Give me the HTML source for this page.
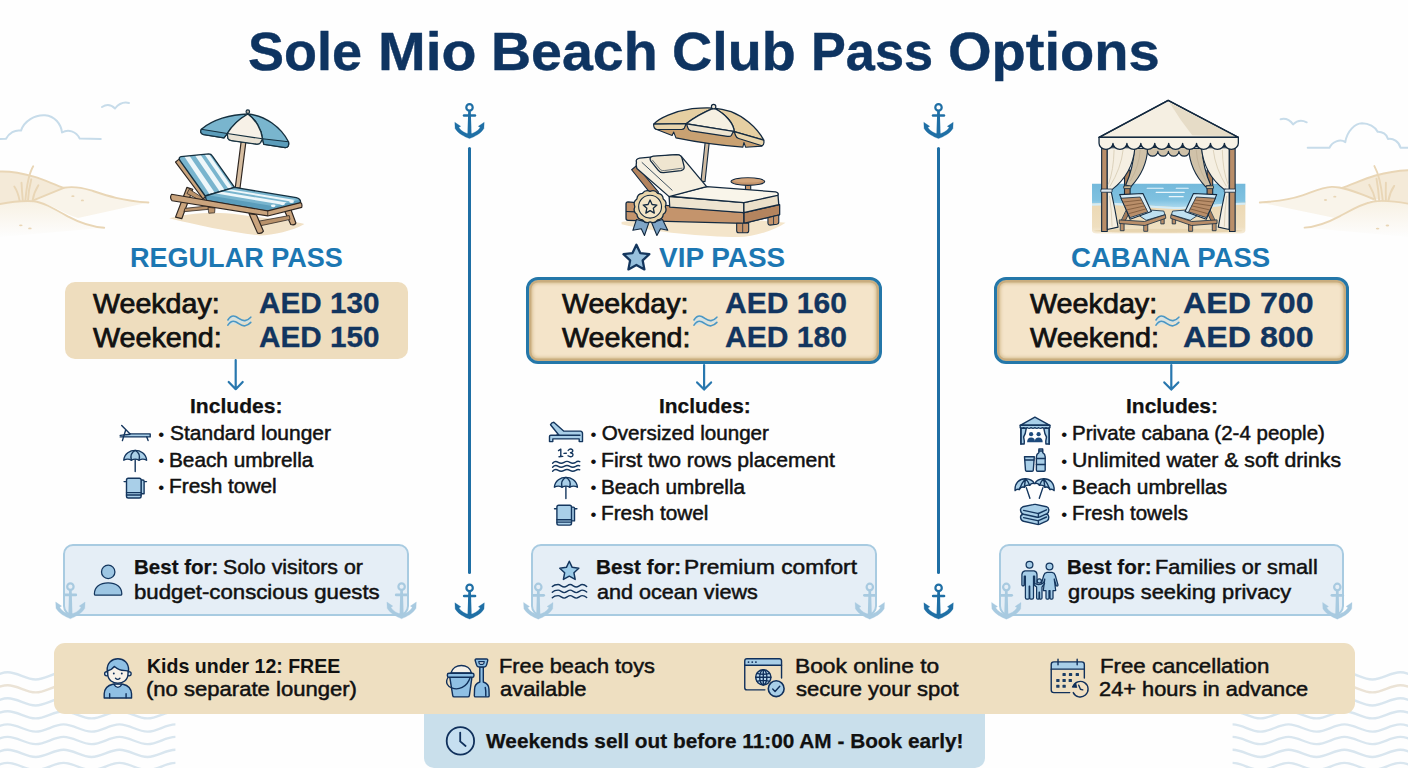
<!DOCTYPE html>
<html><head><meta charset="utf-8"><title>Sole Mio Beach Club Pass Options</title><style>
html,body{margin:0;padding:0;}
body{width:1408px;height:768px;overflow:hidden;background:#fefefe;position:relative;font-family:"Liberation Sans",sans-serif;}
.t{position:absolute;white-space:nowrap;transform-origin:0 0;}
.abs{position:absolute;}
.pbox{position:absolute;box-sizing:border-box;}
.best{position:absolute;box-sizing:border-box;background:#e5eef6;border:2.4px solid #a8cbe1;border-radius:10px;}
.vip{position:absolute;box-sizing:border-box;border:3.5px solid #2477a9;border-radius:12px;background:#f4e4c9;box-shadow:inset 0 0 0 2.4px #c9ad7f, inset 0 0 3px 4px #dcc59c;}
.div{position:absolute;width:3px;background:#1f6fa5;border-radius:1.5px;}
</style></head>
<body>
<svg class="abs" style="left:0;top:0" width="1408" height="768" viewBox="0 0 1408 768">
<defs>
<linearGradient id="fadeL" x1="0" y1="0" x2="0" y2="1"><stop offset="0" stop-color="#f6eedd"/><stop offset="1" stop-color="#fdfdfd"/></linearGradient>
<linearGradient id="fadeB" x1="0" y1="0" x2="0" y2="1"><stop offset="0" stop-color="#f3e8d3"/><stop offset="1" stop-color="#f6eddc"/></linearGradient>
<clipPath id="cwl"><rect x="0" y="660" width="175.4" height="108"/></clipPath>
<clipPath id="cwr"><rect x="1232.6" y="660" width="175.4" height="108"/></clipPath>
</defs>
<g fill="none" stroke-width="2.4" stroke-linecap="round">
<path clip-path="url(#cwl)" stroke="#d9e6ef" d="M-48.2,672.3 C-38.0,672.3 -30.4,679.5 -20.2,679.5 C-10.1,679.5 -2.5,672.3 7.7,672.3 C17.9,672.3 25.5,679.5 35.7,679.5 C45.8,679.5 53.4,672.3 63.6,672.3 C73.8,672.3 81.4,679.5 91.6,679.5 C101.7,679.5 109.3,672.3 119.5,672.3 C129.7,672.3 137.3,679.5 147.5,679.5 C157.6,679.5 165.2,672.3 175.4,672.3 C185.6,672.3 193.2,679.5 203.3,679.5"/>
<path clip-path="url(#cwr)" stroke="#d9e6ef" d="M1176.7,672.3 C1186.9,672.3 1194.5,679.5 1204.6,679.5 C1214.8,679.5 1222.4,672.3 1232.6,672.3 C1242.8,672.3 1250.4,679.5 1260.5,679.5 C1270.7,679.5 1278.3,672.3 1288.5,672.3 C1298.7,672.3 1306.3,679.5 1316.5,679.5 C1326.6,679.5 1334.2,672.3 1344.4,672.3 C1354.6,672.3 1362.2,679.5 1372.4,679.5 C1382.5,679.5 1390.1,672.3 1400.3,672.3 C1410.5,672.3 1418.1,679.5 1428.3,679.5"/>
<path clip-path="url(#cwl)" stroke="#ebe3d6" d="M-48.2,685.2 C-38.0,685.2 -30.4,692.4 -20.2,692.4 C-10.1,692.4 -2.5,685.2 7.7,685.2 C17.9,685.2 25.5,692.4 35.7,692.4 C45.8,692.4 53.4,685.2 63.6,685.2 C73.8,685.2 81.4,692.4 91.6,692.4 C101.7,692.4 109.3,685.2 119.5,685.2 C129.7,685.2 137.3,692.4 147.5,692.4 C157.6,692.4 165.2,685.2 175.4,685.2 C185.6,685.2 193.2,692.4 203.3,692.4"/>
<path clip-path="url(#cwr)" stroke="#ebe3d6" d="M1176.7,685.2 C1186.9,685.2 1194.5,692.4 1204.6,692.4 C1214.8,692.4 1222.4,685.2 1232.6,685.2 C1242.8,685.2 1250.4,692.4 1260.5,692.4 C1270.7,692.4 1278.3,685.2 1288.5,685.2 C1298.7,685.2 1306.3,692.4 1316.5,692.4 C1326.6,692.4 1334.2,685.2 1344.4,685.2 C1354.6,685.2 1362.2,692.4 1372.4,692.4 C1382.5,692.4 1390.1,685.2 1400.3,685.2 C1410.5,685.2 1418.1,692.4 1428.3,692.4"/>
<path clip-path="url(#cwl)" stroke="#d9e6ef" d="M-48.2,698.3 C-38.0,698.3 -30.4,705.5 -20.2,705.5 C-10.1,705.5 -2.5,698.3 7.7,698.3 C17.9,698.3 25.5,705.5 35.7,705.5 C45.8,705.5 53.4,698.3 63.6,698.3 C73.8,698.3 81.4,705.5 91.6,705.5 C101.7,705.5 109.3,698.3 119.5,698.3 C129.7,698.3 137.3,705.5 147.5,705.5 C157.6,705.5 165.2,698.3 175.4,698.3 C185.6,698.3 193.2,705.5 203.3,705.5"/>
<path clip-path="url(#cwr)" stroke="#d9e6ef" d="M1176.7,698.3 C1186.9,698.3 1194.5,705.5 1204.6,705.5 C1214.8,705.5 1222.4,698.3 1232.6,698.3 C1242.8,698.3 1250.4,705.5 1260.5,705.5 C1270.7,705.5 1278.3,698.3 1288.5,698.3 C1298.7,698.3 1306.3,705.5 1316.5,705.5 C1326.6,705.5 1334.2,698.3 1344.4,698.3 C1354.6,698.3 1362.2,705.5 1372.4,705.5 C1382.5,705.5 1390.1,698.3 1400.3,698.3 C1410.5,698.3 1418.1,705.5 1428.3,705.5"/>
<path clip-path="url(#cwl)" stroke="#d9e6ef" d="M-48.2,711.2 C-38.0,711.2 -30.4,718.4 -20.2,718.4 C-10.1,718.4 -2.5,711.2 7.7,711.2 C17.9,711.2 25.5,718.4 35.7,718.4 C45.8,718.4 53.4,711.2 63.6,711.2 C73.8,711.2 81.4,718.4 91.6,718.4 C101.7,718.4 109.3,711.2 119.5,711.2 C129.7,711.2 137.3,718.4 147.5,718.4 C157.6,718.4 165.2,711.2 175.4,711.2 C185.6,711.2 193.2,718.4 203.3,718.4"/>
<path clip-path="url(#cwr)" stroke="#d9e6ef" d="M1176.7,711.2 C1186.9,711.2 1194.5,718.4 1204.6,718.4 C1214.8,718.4 1222.4,711.2 1232.6,711.2 C1242.8,711.2 1250.4,718.4 1260.5,718.4 C1270.7,718.4 1278.3,711.2 1288.5,711.2 C1298.7,711.2 1306.3,718.4 1316.5,718.4 C1326.6,718.4 1334.2,711.2 1344.4,711.2 C1354.6,711.2 1362.2,718.4 1372.4,718.4 C1382.5,718.4 1390.1,711.2 1400.3,711.2 C1410.5,711.2 1418.1,718.4 1428.3,718.4"/>
<path clip-path="url(#cwl)" stroke="#d9e6ef" d="M-48.2,724.4 C-38.0,724.4 -30.4,731.6 -20.2,731.6 C-10.1,731.6 -2.5,724.4 7.7,724.4 C17.9,724.4 25.5,731.6 35.7,731.6 C45.8,731.6 53.4,724.4 63.6,724.4 C73.8,724.4 81.4,731.6 91.6,731.6 C101.7,731.6 109.3,724.4 119.5,724.4 C129.7,724.4 137.3,731.6 147.5,731.6 C157.6,731.6 165.2,724.4 175.4,724.4 C185.6,724.4 193.2,731.6 203.3,731.6"/>
<path clip-path="url(#cwr)" stroke="#d9e6ef" d="M1176.7,724.4 C1186.9,724.4 1194.5,731.6 1204.6,731.6 C1214.8,731.6 1222.4,724.4 1232.6,724.4 C1242.8,724.4 1250.4,731.6 1260.5,731.6 C1270.7,731.6 1278.3,724.4 1288.5,724.4 C1298.7,724.4 1306.3,731.6 1316.5,731.6 C1326.6,731.6 1334.2,724.4 1344.4,724.4 C1354.6,724.4 1362.2,731.6 1372.4,731.6 C1382.5,731.6 1390.1,724.4 1400.3,724.4 C1410.5,724.4 1418.1,731.6 1428.3,731.6"/>
<path clip-path="url(#cwl)" stroke="#d9e6ef" d="M-48.2,736.9 C-38.0,736.9 -30.4,744.1 -20.2,744.1 C-10.1,744.1 -2.5,736.9 7.7,736.9 C17.9,736.9 25.5,744.1 35.7,744.1 C45.8,744.1 53.4,736.9 63.6,736.9 C73.8,736.9 81.4,744.1 91.6,744.1 C101.7,744.1 109.3,736.9 119.5,736.9 C129.7,736.9 137.3,744.1 147.5,744.1 C157.6,744.1 165.2,736.9 175.4,736.9 C185.6,736.9 193.2,744.1 203.3,744.1"/>
<path clip-path="url(#cwr)" stroke="#d9e6ef" d="M1176.7,736.9 C1186.9,736.9 1194.5,744.1 1204.6,744.1 C1214.8,744.1 1222.4,736.9 1232.6,736.9 C1242.8,736.9 1250.4,744.1 1260.5,744.1 C1270.7,744.1 1278.3,736.9 1288.5,736.9 C1298.7,736.9 1306.3,744.1 1316.5,744.1 C1326.6,744.1 1334.2,736.9 1344.4,736.9 C1354.6,736.9 1362.2,744.1 1372.4,744.1 C1382.5,744.1 1390.1,736.9 1400.3,736.9 C1410.5,736.9 1418.1,744.1 1428.3,744.1"/>
<path clip-path="url(#cwl)" stroke="#d9e6ef" d="M-48.2,749.8 C-38.0,749.8 -30.4,757.0 -20.2,757.0 C-10.1,757.0 -2.5,749.8 7.7,749.8 C17.9,749.8 25.5,757.0 35.7,757.0 C45.8,757.0 53.4,749.8 63.6,749.8 C73.8,749.8 81.4,757.0 91.6,757.0 C101.7,757.0 109.3,749.8 119.5,749.8 C129.7,749.8 137.3,757.0 147.5,757.0 C157.6,757.0 165.2,749.8 175.4,749.8 C185.6,749.8 193.2,757.0 203.3,757.0"/>
<path clip-path="url(#cwr)" stroke="#d9e6ef" d="M1176.7,749.8 C1186.9,749.8 1194.5,757.0 1204.6,757.0 C1214.8,757.0 1222.4,749.8 1232.6,749.8 C1242.8,749.8 1250.4,757.0 1260.5,757.0 C1270.7,757.0 1278.3,749.8 1288.5,749.8 C1298.7,749.8 1306.3,757.0 1316.5,757.0 C1326.6,757.0 1334.2,749.8 1344.4,749.8 C1354.6,749.8 1362.2,757.0 1372.4,757.0 C1382.5,757.0 1390.1,749.8 1400.3,749.8 C1410.5,749.8 1418.1,757.0 1428.3,757.0"/>
<path clip-path="url(#cwl)" stroke="#d9e6ef" d="M-48.2,762.9 C-38.0,762.9 -30.4,770.1 -20.2,770.1 C-10.1,770.1 -2.5,762.9 7.7,762.9 C17.9,762.9 25.5,770.1 35.7,770.1 C45.8,770.1 53.4,762.9 63.6,762.9 C73.8,762.9 81.4,770.1 91.6,770.1 C101.7,770.1 109.3,762.9 119.5,762.9 C129.7,762.9 137.3,770.1 147.5,770.1 C157.6,770.1 165.2,762.9 175.4,762.9 C185.6,762.9 193.2,770.1 203.3,770.1"/>
<path clip-path="url(#cwr)" stroke="#d9e6ef" d="M1176.7,762.9 C1186.9,762.9 1194.5,770.1 1204.6,770.1 C1214.8,770.1 1222.4,762.9 1232.6,762.9 C1242.8,762.9 1250.4,770.1 1260.5,770.1 C1270.7,770.1 1278.3,762.9 1288.5,762.9 C1298.7,762.9 1306.3,770.1 1316.5,770.1 C1326.6,770.1 1334.2,762.9 1344.4,762.9 C1354.6,762.9 1362.2,770.1 1372.4,770.1 C1382.5,770.1 1390.1,762.9 1400.3,762.9 C1410.5,762.9 1418.1,770.1 1428.3,770.1"/>
</g>
<g stroke-linecap="round" stroke-linejoin="round">
<path d="M0,171.5 C8,171.3 20,172.5 33.9,176.7 C45,180 55,185 63.8,187.8 L33.9,200.1 C22,200.5 10,202 0,204 Z" fill="#f4ead8"/>
<path d="M33.9,200.1 L63.8,187.8 C70,186.6 80,187 91.1,190.4 C105,195 120,200.5 148.4,202.5 L78,218 C60,212 50,203 33.9,201.2 Z" fill="#f9f4ea"/>
<path d="M0,204 C12,201.6 24,200.6 33.9,201.2 C42,202 52,207.5 67.7,216.4 C82,224 92,227 104.2,227.7 L0,237 Z" fill="url(#fadeL)" opacity="0.8"/>
<g fill="none" stroke="#e9d6b6" stroke-width="1.9">
<path d="M0,171.5 C8,171.3 20,172.5 33.9,176.7 C45,180 55,185 63.8,187.8"/>
<path d="M33.9,200.1 L63.8,187.8 C70,186.6 80,187 91.1,190.4 C105,195 120,200.5 148.4,202.5"/>
<path d="M0,204 C12,201.6 24,200.6 33.9,201.2 C42,202 52,207.5 67.7,216.4 C82,224 92,227 104.2,227.7"/>
<path d="M14.3,186.5 Q18,192 19.5,200.3"/><path d="M21.5,182.6 Q22,192 22.8,200.3"/><path d="M33.2,166.3 Q27.5,176 25.4,200.3"/><path d="M31.3,179.3 Q28.5,190 28,200.3"/><path d="M38.4,185.2 Q34,192 32.6,200.3"/>
</g>
<g fill="#e9d6b6"><ellipse cx="72.9" cy="196.2" rx="1.6" ry="0.9"/><ellipse cx="82.4" cy="200.4" rx="1.6" ry="0.9"/><ellipse cx="20.8" cy="225.3" rx="1.8" ry="0.9"/><ellipse cx="29.9" cy="228.4" rx="1.8" ry="0.9"/></g>
<path d="M1342.1,188 C1352,184.5 1365,178.5 1375.5,175.5 C1388,172 1398,170.6 1408,170.2 L1408,203.6 C1398,201.8 1385,200.5 1373.4,199 Z" fill="#f4ead8"/>
<path d="M1259.8,202.5 C1275,201.5 1290,199.5 1302.5,195.3 C1315,191 1322,187.5 1331.7,186.9 C1340,186.6 1350,189.5 1373.4,199 L1335,218 Z" fill="#f9f4ea"/>
<path d="M1304.6,227.6 C1315,227 1328,222.5 1340,216.1 C1352,209.5 1362,203.5 1373.4,201.5 C1385,199.8 1398,201.8 1408,203.6 L1408,237 Z" fill="url(#fadeL)" opacity="0.8"/>
<g fill="none" stroke="#e9d6b6" stroke-width="1.9">
<path d="M1342.1,188 C1352,184.5 1365,178.5 1375.5,175.5 C1388,172 1398,170.6 1408,170.2"/>
<path d="M1259.8,202.5 C1275,201.5 1290,199.5 1302.5,195.3 C1315,191 1322,187.5 1331.7,186.9 C1340,186.6 1350,189.5 1373.4,199"/>
<path d="M1304.6,227.6 C1315,227 1328,222.5 1340,216.1 C1352,209.5 1362,203.5 1373.4,201.5 C1385,199.8 1398,201.8 1408,203.6"/>
<path d="M1374.4,166.1 Q1380.5,177 1382.8,200.5"/><path d="M1369.2,184.8 Q1373.5,192 1375.5,200.5"/><path d="M1376.5,178.6 Q1378.5,190 1379.2,200.5"/><path d="M1385.9,182.7 Q1385.6,192 1385.9,200.5"/><path d="M1394.2,185.9 Q1390,192 1388.4,200.5"/>
</g>
<g fill="#e9d6b6"><ellipse cx="1325.5" cy="200" rx="1.6" ry="0.9"/><ellipse cx="1334.8" cy="196.7" rx="1.6" ry="0.9"/><ellipse cx="1377.6" cy="228.6" rx="1.8" ry="0.9"/><ellipse cx="1387.4" cy="225.5" rx="1.8" ry="0.9"/></g>
</g>
<g fill="none" stroke="#c7dcea" stroke-width="2" stroke-linecap="round" stroke-linejoin="round">
<path d="M0,139 L6,138.8 C9,133 15,129.5 21,130.6 C24,121 35,114.5 45,115.2 C55,116 61,124 62,132.5 C68,129 76,131 79.7,138.6 L100.8,139"/>
<path d="M102,107 Q109,102.5 115,108.5 Q121,101 129,103"/>
<path d="M1307.7,147.7 L1329.6,147.7 C1332,142 1340,138.5 1345.3,142.1 C1347,131 1355,123.5 1362,123.3 C1369,123.3 1375,127 1377.6,131.7 C1382,131.5 1387,134 1388,139 C1393,138 1399,141.5 1400.5,147.7 L1408,147.7"/>
<path d="M1280.6,119.2 Q1288,117.5 1293.1,124.4 Q1299,118.5 1306.7,122.3"/>
</g>
</svg>
<div class="abs" style="left:423.5px;top:712px;width:561px;height:56px;background:#c9dfeb;border-radius:0 0 10px 10px;"></div>
<div class="abs" style="left:53.5px;top:642.5px;width:1301px;height:71.5px;background:#eedfc1;border-radius:11px;"></div>
<div class="pbox" style="left:65px;top:281.5px;width:342.5px;height:77.7px;background:#eeddbe;border-radius:10px;"></div>
<div class="vip" style="left:526.3px;top:277px;width:355.4px;height:87.2px;"></div>
<div class="vip" style="left:994.3px;top:277px;width:354.6px;height:87.2px;"></div>
<div class="best" style="left:63.3px;top:543.6px;width:346px;height:72.2px;"></div>
<div class="best" style="left:531.3px;top:543.6px;width:346px;height:72.2px;"></div>
<div class="best" style="left:999px;top:543.6px;width:345.4px;height:72.2px;"></div>
<div class="div" style="left:468px;top:147.3px;height:426.3px;"></div>
<div class="div" style="left:937px;top:147.3px;height:426.3px;"></div>
<svg class="abs" style="left:0;top:0" width="1408" height="768" viewBox="0 0 1408 768">
<defs>
<g id="anc"><circle cx="16" cy="4.3" r="3.2" fill="none" stroke="currentColor" stroke-width="2.2"/>
<path d="M14.7,7.2 L17.3,7.2 L18,31.5 L14,31.5 Z" fill="currentColor"/>
<path d="M10.6,12.4 L21.4,12.4" stroke="currentColor" stroke-width="2.7" stroke-linecap="round" fill="none"/>
<path d="M1.3,19.2 L7.2,23.2 L5.3,24.5 C7.8,28 11.5,30.3 16,30.9 C20.5,30.3 24.2,28 26.7,24.5 L24.8,23.2 L30.7,19.2 L30.4,25.4 C27.5,30.5 21,33.5 16,35.5 C11,33.5 4.500,30.5 1.6,25.4 Z" fill="currentColor" stroke="currentColor" stroke-width="0.3" stroke-linejoin="round"/></g>
</defs>
<use href="#anc" x="453.5" y="103.1" style="color:#1f6fa5"/>
<use href="#anc" x="922.5" y="103.1" style="color:#1f6fa5"/>
<use href="#anc" x="453.6" y="583.6" style="color:#1f6fa5"/>
<use href="#anc" x="922.6" y="583.6" style="color:#1f6fa5"/>
<g transform="translate(54.4,582.2) scale(1,1.03)"><use href="#anc" style="color:#a8cae0"/></g>
<g transform="translate(385.6,582.2) scale(1,1.03)"><use href="#anc" style="color:#a8cae0"/></g>
<g transform="translate(522.3,582.6) scale(1,1.03)"><use href="#anc" style="color:#a8cae0"/></g>
<g transform="translate(853.8,582.6) scale(1,1.03)"><use href="#anc" style="color:#a8cae0"/></g>
<g transform="translate(990.3,582.6) scale(1,1.03)"><use href="#anc" style="color:#a8cae0"/></g>
<g transform="translate(1321.3,582.6) scale(1,1.03)"><use href="#anc" style="color:#a8cae0"/></g>
<path d="M235.7,360 L235.7,389.2 M228.7,382.0 L235.7,389.2 L242.7,382.0" fill="none" stroke="#2877ae" stroke-width="2.2" stroke-linecap="round" stroke-linejoin="round"/>
<path d="M704.1,365 L704.1,389.6 M697.1,382.40000000000003 L704.1,389.6 L711.1,382.40000000000003" fill="none" stroke="#2877ae" stroke-width="2.2" stroke-linecap="round" stroke-linejoin="round"/>
<path d="M1171.3,365 L1171.3,389.6 M1164.3,382.40000000000003 L1171.3,389.6 L1178.3,382.40000000000003" fill="none" stroke="#2877ae" stroke-width="2.2" stroke-linecap="round" stroke-linejoin="round"/>
<path d="M227.90,320.00 C230.00,316.60 233.00,315.40 235.60,316.50 C239.00,318.00 241.20,321.20 245.00,320.60 C247.50,320.20 249.50,318.60 250.80,317.20 L250.80,322.40 L227.90,325.20 Z" fill="#cfe2ea" opacity="0.7"/>
<path d="M227.90,320.00 C230.00,316.60 233.00,315.40 235.60,316.50 C239.00,318.00 241.20,321.20 245.00,320.60 C247.50,320.20 249.50,318.60 250.80,317.20" fill="none" stroke="#4a97c4" stroke-width="1.6" stroke-linecap="round"/>
<path d="M227.90,325.20 C230.00,321.80 233.00,320.60 235.60,321.70 C239.00,323.20 241.20,326.40 245.00,325.80 C247.50,325.40 249.50,323.80 250.80,322.40" fill="none" stroke="#4a97c4" stroke-width="1.6" stroke-linecap="round"/>
<path d="M694.00,320.00 C696.10,316.60 699.10,315.40 701.70,316.50 C705.10,318.00 707.30,321.20 711.10,320.60 C713.60,320.20 715.60,318.60 716.90,317.20 L716.90,322.40 L694.00,325.20 Z" fill="#cfe2ea" opacity="0.7"/>
<path d="M694.00,320.00 C696.10,316.60 699.10,315.40 701.70,316.50 C705.10,318.00 707.30,321.20 711.10,320.60 C713.60,320.20 715.60,318.60 716.90,317.20" fill="none" stroke="#4a97c4" stroke-width="1.6" stroke-linecap="round"/>
<path d="M694.00,325.20 C696.10,321.80 699.10,320.60 701.70,321.70 C705.10,323.20 707.30,326.40 711.10,325.80 C713.60,325.40 715.60,323.80 716.90,322.40" fill="none" stroke="#4a97c4" stroke-width="1.6" stroke-linecap="round"/>
<path d="M1156.00,320.00 C1158.10,316.60 1161.10,315.40 1163.70,316.50 C1167.10,318.00 1169.30,321.20 1173.10,320.60 C1175.60,320.20 1177.60,318.60 1178.90,317.20 L1178.90,322.40 L1156.00,325.20 Z" fill="#cfe2ea" opacity="0.7"/>
<path d="M1156.00,320.00 C1158.10,316.60 1161.10,315.40 1163.70,316.50 C1167.10,318.00 1169.30,321.20 1173.10,320.60 C1175.60,320.20 1177.60,318.60 1178.90,317.20" fill="none" stroke="#4a97c4" stroke-width="1.6" stroke-linecap="round"/>
<path d="M1156.00,325.20 C1158.10,321.80 1161.10,320.60 1163.70,321.70 C1167.10,323.20 1169.30,326.40 1173.10,325.80 C1175.60,325.40 1177.60,323.80 1178.90,322.40" fill="none" stroke="#4a97c4" stroke-width="1.6" stroke-linecap="round"/>
<polygon points="636.40,244.80 640.28,253.06 649.33,254.20 642.68,260.44 644.39,269.40 636.40,265.00 628.41,269.40 630.12,260.44 623.47,254.20 632.52,253.06" fill="#97c0dd" stroke="#14365e" stroke-width="2.3" stroke-linejoin="round"/>
<polygon points="569.30,561.30 572.18,567.34 578.81,568.21 573.96,572.81 575.18,579.39 569.30,576.20 563.42,579.39 564.64,572.81 559.79,568.21 566.42,567.34" fill="#9ccbe8" stroke="#14365e" stroke-width="1.5" stroke-linejoin="round"/>
<path d="M552.3,586.60 C554.3,584.55 556.1,584.55 558.1,584.55 C560.28,584.55 561.97,587.05 564.15,587.05 C566.33,587.05 568.02,584.55 570.20,584.55 C572.38,584.55 574.07,587.05 576.25,587.05 C578.43,587.05 580.12,584.55 582.30,584.55 C584.0,584.55 585.5,585.40 586.7,586.50" fill="none" stroke="#14365e" stroke-width="1.4" stroke-linecap="round"/>
<path d="M552.3,592.20 C554.3,590.15 556.1,590.15 558.1,590.15 C560.28,590.15 561.97,592.65 564.15,592.65 C566.33,592.65 568.02,590.15 570.20,590.15 C572.38,590.15 574.07,592.65 576.25,592.65 C578.43,592.65 580.12,590.15 582.30,590.15 C584.0,590.15 585.5,591.00 586.7,592.10" fill="none" stroke="#14365e" stroke-width="1.4" stroke-linecap="round"/>
<path d="M552.3,597.70 C554.3,595.65 556.1,595.65 558.1,595.65 C560.28,595.65 561.97,598.15 564.15,598.15 C566.33,598.15 568.02,595.65 570.20,595.65 C572.38,595.65 574.07,598.15 576.25,598.15 C578.43,598.15 580.12,595.65 582.30,595.65 C584.0,595.65 585.5,596.50 586.7,597.60" fill="none" stroke="#14365e" stroke-width="1.4" stroke-linecap="round"/>
<circle cx="108.2" cy="571.9" r="6.7" fill="#9dc6e3" stroke="#14365e" stroke-width="1.3"/>
<path d="M94.4,594 C94.4,587 100,582.8 108.1,582.8 C116.200,582.8 121.800,587 121.800,594 Q121.800,595.2 120.600,595.2 L95.600,595.2 Q94.400,595.2 94.400,594 Z" fill="#9dc6e3" stroke="#14365e" stroke-width="1.3"/>
<g fill="#a6cde8" stroke="#14365e" stroke-width="1.25" stroke-linejoin="round">
<circle cx="1029.5" cy="564.8" r="3.4"/>
<path d="M1025,570.9 L1034,570.9 Q1036.800,571.2 1037,574.5 L1037,585 Q1036.200,586.800 1034.800,585.3 L1034.600,576 L1033.500,576 L1033.500,597.800 Q1033.500,599.200 1032,599.200 L1030.800,599.200 Q1029.800,599.200 1029.800,598 L1029.700,586 L1029.200,586 L1029.200,598 Q1029.200,599.200 1028,599.200 L1026.800,599.200 Q1025.400,599.200 1025.400,597.800 L1025.400,576 L1024.300,576 L1024.100,585.3 Q1022.700,586.800 1021.900,585 L1021.900,574.5 Q1022.200,571.2 1025,570.9 Z"/>
<circle cx="1049.5" cy="566.4" r="3.4"/>
<path d="M1047,572.4 L1052,572.4 Q1054.500,572.8 1055.300,575.5 L1058,585 Q1057.600,586.700 1056.200,585.700 L1054.200,579 L1055.700,590.5 L1053,590.5 L1053,598 Q1053,599.200 1051.900,599.200 L1051,599.200 Q1050,599.200 1050,598 L1050,590.5 L1049,590.5 L1049,598 Q1049,599.200 1048,599.200 L1047.100,599.200 Q1046,599.200 1046,598 L1046,590.5 L1043.300,590.5 L1044.800,579 L1042.800,585.700 Q1041.400,586.700 1041,585 L1043.700,575.5 Q1044.500,572.800 1047,572.400 Z"/>
<circle cx="1039.3" cy="580.9" r="2.1"/>
<path d="M1034.600,583.5 Q1039.300,586 1044,582.5 L1044.600,583.7 Q1042.500,586 1042,587 L1042,598 Q1042,599.200 1040.900,599.200 L1040.300,599.200 Q1039.600,599.200 1039.600,598.300 L1039.500,592 L1039.100,592 L1039,598.300 Q1039,599.200 1038.300,599.200 L1037.700,599.200 Q1036.600,599.200 1036.600,598 L1036.600,587 Q1035.500,586 1034,584.700 Z"/>
</g>
<circle cx="460.4" cy="740.9" r="13.7" fill="#c6dff0" stroke="#10305b" stroke-width="1.8"/>
<path d="M460.2,732.6 L460.2,741.4 L465.6,746" fill="none" stroke="#10305b" stroke-width="1.8" stroke-linecap="round" stroke-linejoin="round"/>
<g fill="none" stroke="#14365e" stroke-width="1.4" stroke-linejoin="round" stroke-linecap="round" stroke-width="1.5">
<path d="M121.7,425.6 L130.6,434.6"/>
<path d="M129.800,433.900 L150.200,433.900 L150.200,436.900 L120.200,436.900" fill="#a9cfe8"/>
<path d="M120.200,435.400 L130,434.200"/>
<path d="M125.600,430.200 L122.400,440.600"/><path d="M146.800,437 L148.100,440.600"/>
</g>
<path d="M123.79999999999998,460.2 C124.29999999999998,453.4 130.2,450.4 135.2,450.4 C140.2,450.4 146.1,453.4 146.6,460.2 Q142.79999999999998,458.0 139.0,460.2 Q135.2,458.0 131.39999999999998,460.2 Q127.59999999999998,458.0 123.79999999999998,460.2 Z" fill="#a9cfe8" stroke="#14365e" stroke-width="1.4" stroke-linejoin="round" stroke-linecap="round"/>
<path d="M135.2,450.4 Q129.5,453.4 131.39999999999998,460.2 M135.2,450.4 Q140.89999999999998,453.4 139.0,460.2" fill="none" stroke="#14365e" stroke-width="1.4" stroke-linejoin="round" stroke-linecap="round"/>
<path d="M135.2,459.7 L135.2,471.5" fill="none" stroke="#14365e" stroke-width="1.4" stroke-linejoin="round" stroke-linecap="round" stroke-width="1.5"/>
<path d="M554.4,487.2 C554.9,480.4 560.9,477.4 565.9,477.4 C570.9,477.4 576.9,480.4 577.4,487.2 Q573.5666666666666,485.0 569.7333333333333,487.2 Q565.9,485.0 562.0666666666666,487.2 Q558.2333333333333,485.0 554.4,487.2 Z" fill="#a9cfe8" stroke="#14365e" stroke-width="1.4" stroke-linejoin="round" stroke-linecap="round"/>
<path d="M565.9,477.4 Q560.15,480.4 562.0666666666666,487.2 M565.9,477.4 Q571.65,480.4 569.7333333333333,487.2" fill="none" stroke="#14365e" stroke-width="1.4" stroke-linejoin="round" stroke-linecap="round"/>
<path d="M565.9,486.7 L565.9,498.6" fill="none" stroke="#14365e" stroke-width="1.4" stroke-linejoin="round" stroke-linecap="round" stroke-width="1.5"/>
<path d="M124.1,481.59999999999997 L146.5,481.59999999999997" fill="none" stroke="#14365e" stroke-width="1.4" stroke-linejoin="round" stroke-linecap="round"/>
<path d="M140.9,480.0 L142.9,480.0 Q144.1,480.0 144.1,481.2 L144.1,493.8 L140.9,493.8 Z" fill="#a9cfe8" stroke="#14365e" stroke-width="1.4" stroke-linejoin="round" stroke-linecap="round"/>
<rect x="126.5" y="478.2" width="14.6" height="19.8" rx="1.8" fill="#a9cfe8" stroke="#14365e" stroke-width="1.4" stroke-linejoin="round" stroke-linecap="round"/>
<path d="M126.5,492.59999999999997 L141.1,492.59999999999997 M126.5,495.0 L141.1,495.0" fill="none" stroke="#14365e" stroke-width="1.4" stroke-linejoin="round" stroke-linecap="round" stroke-width="1.1"/>
<path d="M554.5,508.7 L576.9,508.7" fill="none" stroke="#14365e" stroke-width="1.4" stroke-linejoin="round" stroke-linecap="round"/>
<path d="M571.3,507.1 L573.3,507.1 Q574.5,507.1 574.5,508.3 L574.5,520.9 L571.3,520.9 Z" fill="#a9cfe8" stroke="#14365e" stroke-width="1.4" stroke-linejoin="round" stroke-linecap="round"/>
<rect x="556.9" y="505.3" width="14.6" height="19.8" rx="1.8" fill="#a9cfe8" stroke="#14365e" stroke-width="1.4" stroke-linejoin="round" stroke-linecap="round"/>
<path d="M556.9,519.7 L571.5,519.7 M556.9,522.1 L571.5,522.1" fill="none" stroke="#14365e" stroke-width="1.4" stroke-linejoin="round" stroke-linecap="round" stroke-width="1.1"/>
<path d="M550.500,424.700 Q551.300,422.600 553.800,422.300 L563.600,431.100 L580.400,431.100 Q582.500,431.300 582.500,433.400 L582.500,441.600 L579.200,441.600 L579.200,438.900 L552.800,438.900 L552.800,441.600 L549.500,441.600 L549.500,436.500 Q549.500,435.300 550.800,435.300 L559,435.300 Z" fill="#a9cfe8" stroke="#14365e" stroke-width="1.4" stroke-linejoin="round" stroke-linecap="round"/>
<path d="M556.5,435.300 L580,435.300" fill="none" stroke="#14365e" stroke-width="1.4" stroke-linejoin="round" stroke-linecap="round" stroke-width="1"/>
<g fill="none" stroke="#14365e" stroke-width="1.4" stroke-linejoin="round" stroke-linecap="round" stroke-width="1.2"><path d="M558.500,450.600 L560.800,449.200 L560.800,456.400 M559,456.700 L562.800,456.400"/><path d="M564,453.400 L566.300,453.200"/><path d="M568.200,450.400 Q570.500,447.800 572.600,450 Q573.500,452 570.500,452.700 Q574,453.500 572.600,456 Q570.500,457.600 568,455.800"/></g>
<path d="M552.600,463.2 C554.400,461.1 556.400,461.1 558.300,462.3 C560.200,463.5 562.200,463.5 564.100,462.3 C566,461.1 568,461.1 569.900,462.3 C571.800,463.5 573.800,463.5 575.700,462.3 C577.100,461.2 578.500,461.1 579.800,461.7" fill="none" stroke="#14365e" stroke-width="1.4" stroke-linejoin="round" stroke-linecap="round" stroke-width="1.25"/>
<path d="M552.600,467.29999999999995 C554.400,465.2 556.400,465.2 558.300,466.4 C560.200,467.59999999999997 562.200,467.59999999999997 564.100,466.4 C566,465.2 568,465.2 569.900,466.4 C571.800,467.59999999999997 573.800,467.59999999999997 575.700,466.4 C577.100,465.29999999999995 578.500,465.2 579.800,465.79999999999995" fill="none" stroke="#14365e" stroke-width="1.4" stroke-linejoin="round" stroke-linecap="round" stroke-width="1.25"/>
<path d="M552.600,471.29999999999995 C554.400,469.2 556.400,469.2 558.300,470.4 C560.200,471.59999999999997 562.200,471.59999999999997 564.100,470.4 C566,469.2 568,469.2 569.900,470.4 C571.800,471.59999999999997 573.800,471.59999999999997 575.700,470.4 C577.100,469.29999999999995 578.500,469.2 579.800,469.79999999999995" fill="none" stroke="#14365e" stroke-width="1.4" stroke-linejoin="round" stroke-linecap="round" stroke-width="1.25"/>
<path d="M1034.900,417.200 L1049.900,425.300 L1020.200,425.300 Z" fill="#a9cfe8" stroke="#14365e" stroke-width="1.4" stroke-linejoin="round" stroke-linecap="round"/>
<path d="M1020.200,425.300 L1049.900,425.300 L1049.900,427.700 Q1048,429 1046.200,427.700 Q1044.300,429 1042.400,427.700 Q1040.500,429 1038.700,427.700 Q1036.800,429 1034.900,427.700 Q1033,429 1031.100,427.700 Q1029.200,429 1027.400,427.700 Q1025.500,429 1023.600,427.700 Q1021.700,429 1020.200,427.700 Z" fill="#a9cfe8" stroke="#14365e" stroke-width="1.4" stroke-linejoin="round" stroke-linecap="round"/>
<path d="M1020.900,428.200 L1026.300,428.200 Q1025.600,434 1023.600,437 Q1024.600,441 1024.200,444 L1020.900,444 Z" fill="#a9cfe8" stroke="#14365e" stroke-width="1.4" stroke-linejoin="round" stroke-linecap="round"/>
<path d="M1049.200,428.200 L1043.800,428.200 Q1044.500,434 1046.500,437 Q1045.500,441 1045.900,444 L1049.200,444 Z" fill="#a9cfe8" stroke="#14365e" stroke-width="1.4" stroke-linejoin="round" stroke-linecap="round"/>
<path d="M1020.900,428 L1020.900,444.200 M1049.200,428 L1049.200,444.200" fill="none" stroke="#14365e" stroke-width="1.4" stroke-linejoin="round" stroke-linecap="round" stroke-width="1.4"/>
<circle cx="1031.100" cy="434.200" r="2.100" fill="#1d4a7c"/><circle cx="1038.600" cy="434.200" r="2.100" fill="#1d4a7c"/>
<path d="M1027.100,442.200 Q1027.100,437.400 1031.100,437.400 Q1034.800,437.400 1034.900,441 Q1035,437.400 1038.600,437.400 Q1042.700,437.400 1042.700,442.200 Z" fill="#1d4a7c"/>
<path d="M1024.500,456.700 L1034.300,456.700 L1033.300,470.200 Q1033.200,471.300 1032.100,471.300 L1026.700,471.300 Q1025.600,471.300 1025.500,470.200 Z" fill="#a9cfe8" stroke="#14365e" stroke-width="1.4" stroke-linejoin="round" stroke-linecap="round"/>
<path d="M1025,460 L1033.900,460" fill="none" stroke="#14365e" stroke-width="1.4" stroke-linejoin="round" stroke-linecap="round" stroke-width="1"/>
<path d="M1038.900,449 L1042.700,449 L1042.700,452.600 Q1045.200,454 1045.200,456.800 L1045.200,470 Q1045.200,471.200 1044,471.200 L1037.600,471.200 Q1036.400,471.200 1036.400,470 L1036.400,456.800 Q1036.400,454 1038.900,452.600 Z" fill="#a9cfe8" stroke="#14365e" stroke-width="1.4" stroke-linejoin="round" stroke-linecap="round"/>
<path d="M1038.900,451 L1042.700,451 M1036.400,458.500 L1045.200,458.500 M1036.400,464.500 L1045.200,464.500" fill="none" stroke="#14365e" stroke-width="1.4" stroke-linejoin="round" stroke-linecap="round" stroke-width="1"/>
<path d="M1015.100,490.600 C1014.500,483 1019.500,478.600 1025.500,478.700 C1029.500,478.800 1033,480.500 1034.300,483.600 Q1031.200,482.800 1029.700,485.300 Q1026,484.500 1024.300,487.200 Q1020.500,486.500 1019.300,489.500 Q1016.800,488.500 1015.100,490.600 Z" fill="#a9cfe8" stroke="#14365e" stroke-width="1.4" stroke-linejoin="round" stroke-linecap="round"/>
<path d="M1025.500,478.700 Q1021.500,483 1019.300,489.500 M1025.500,478.700 Q1025,483 1024.300,487.200 M1025.500,478.700 Q1028.500,481.500 1029.700,485.300" fill="none" stroke="#14365e" stroke-width="1.4" stroke-linejoin="round" stroke-linecap="round" stroke-width="1"/>
<path d="M1054.100,490.600 C1054.700,483 1049.700,478.600 1043.700,478.700 C1039.700,478.800 1036.200,480.500 1034.900,483.600 Q1038,482.800 1039.500,485.300 Q1043.200,484.500 1044.900,487.200 Q1048.700,486.500 1049.900,489.500 Q1052.400,488.500 1054.100,490.600 Z" fill="#a9cfe8" stroke="#14365e" stroke-width="1.4" stroke-linejoin="round" stroke-linecap="round"/>
<path d="M1043.700,478.700 Q1047.700,483 1049.900,489.500 M1043.700,478.700 Q1044.200,483 1044.900,487.200 M1043.700,478.700 Q1040.700,481.500 1039.500,485.300" fill="none" stroke="#14365e" stroke-width="1.4" stroke-linejoin="round" stroke-linecap="round" stroke-width="1"/>
<path d="M1026.300,487.600 L1029.900,498.300 M1042.900,487.600 L1039.300,498.300" fill="none" stroke="#14365e" stroke-width="1.4" stroke-linejoin="round" stroke-linecap="round" stroke-width="1.4"/>
<path d="M1023,514.200 Q1020.200,514.700 1020.600,517.800 Q1021,520.500 1023.600,521.200 L1037.300,524.400 Q1038.600,524.600 1039.800,524.100 L1047,520.800 Q1049,519.800 1048.800,517 Q1048.600,514.500 1046.600,514 Z" fill="#a9cfe8" stroke="#14365e" stroke-width="1.4" stroke-linejoin="round" stroke-linecap="round"/>
<path d="M1022.800,506.800 Q1020.200,507.800 1020.600,510.600 Q1021,513.500 1023.600,514.200 L1037.300,517.200 Q1038.600,517.400 1039.800,516.900 L1047,513.600 Q1049,512.500 1048.800,509.700 Q1048.600,507.400 1046.500,506.700 L1035.500,504.400 Q1034.200,504.200 1033,504.600 Z" fill="#a9cfe8" stroke="#14365e" stroke-width="1.4" stroke-linejoin="round" stroke-linecap="round"/>
<path d="M1023.600,510.400 L1037.500,513.400 Q1038.600,513.500 1039.600,513 L1046.500,509.800 M1038.400,513.500 L1038.400,517.200 M1023.600,517.600 L1037.500,520.600 Q1038.600,520.700 1039.600,520.200 L1046.500,517 M1038.400,520.700 L1038.400,524.400" fill="none" stroke="#14365e" stroke-width="1.4" stroke-linejoin="round" stroke-linecap="round" stroke-width="1"/><path d="M104.20,698.05 L104.20,693.75 C104.59,688.28 108.50,685.16 112.80,684.22 L122.95,684.22 C127.25,685.16 131.16,688.28 131.55,693.75 L131.55,698.05 Z" fill="#8fc0e4" stroke="#10305b" stroke-width="1.4" stroke-linejoin="round" stroke-linecap="round"/>
<path d="M113.58,684.22 Q117.88,690.62 122.17,684.22 Z" fill="#e9f1f6" stroke="#10305b" stroke-width="1.3" stroke-linejoin="round"/>
<path d="M109.67,693.75 L109.67,697.81 M126.08,693.75 L126.08,697.81" fill="none" stroke="#10305b" stroke-width="1.4" stroke-linejoin="round" stroke-linecap="round" stroke-width="1.2"/>
<circle cx="106.70" cy="673.83" r="2.1" fill="#cfe3f1" stroke="#10305b" stroke-width="1.3"/>
<circle cx="129.05" cy="673.83" r="2.1" fill="#cfe3f1" stroke="#10305b" stroke-width="1.3"/>
<path d="M107.72,669.92 C107.72,664.06 128.03,664.06 128.03,669.92 L128.03,673.44 C128.03,680.47 122.56,683.20 117.88,683.20 C113.19,683.20 107.72,680.47 107.72,673.44 Z" fill="#f7f1e9" stroke="#10305b" stroke-width="1.4"/>
<path d="M107.17,670.94 C106.00,654.69 129.75,654.69 128.58,670.94 C125.69,670.47 121.78,670.70 119.44,669.53 C117.09,668.59 115.53,667.34 114.36,666.41 C112.80,668.75 110.06,670.16 107.17,670.94 Z" fill="#8fc0e4" stroke="#10305b" stroke-width="1.4" stroke-linejoin="round" stroke-linecap="round"/>
<circle cx="113.81" cy="673.44" r="0.95" fill="#10305b"/><circle cx="121.78" cy="673.44" r="0.95" fill="#10305b"/>
<path d="M115.53,678.28 Q117.72,680.47 119.91,678.28" fill="none" stroke="#10305b" stroke-width="1.4" stroke-linejoin="round" stroke-linecap="round" stroke-width="1.3"/>
<path d="M450.89,673.05 C453.62,662.89 469.25,662.89 471.59,673.05 Z" fill="#f4f0e8" stroke="#10305b" stroke-width="1.4" stroke-linejoin="round"/>
<path d="M449.72,676.95 L471.98,676.95 L469.41,695.31 Q469.25,696.88 467.69,696.88 L454.41,696.88 Q452.84,696.88 452.69,695.31 Z" fill="#8fc0e4" stroke="#10305b" stroke-width="1.4" stroke-linejoin="round" stroke-linecap="round"/>
<rect x="447.38" y="673.20" width="26.56" height="4.06" rx="1.6" fill="#8fc0e4" stroke="#10305b" stroke-width="1.4" stroke-linejoin="round" stroke-linecap="round"/>
<path d="M448.00,677.50 C444.64,682.81 448.16,686.72 451.67,687.89 C458.31,690.62 466.91,687.50 470.19,677.50" fill="none" stroke="#10305b" stroke-width="1.4" stroke-linejoin="round" stroke-linecap="round"/>
<path d="M479.80,666.80 L479.80,682.03 C476.28,683.20 474.56,685.16 474.56,689.06 L474.33,695.70 Q474.33,696.88 475.50,696.88 L488.00,696.88 Q489.17,696.88 489.17,695.70 L488.94,689.06 C488.94,685.16 486.83,683.20 483.31,682.03 L483.31,666.80 Z" fill="#8fc0e4" stroke="#10305b" stroke-width="1.4" stroke-linejoin="round" stroke-linecap="round"/>
<path d="M476.28,658.98 L486.44,658.98 Q488.00,658.98 487.69,660.55 L486.59,664.84 Q486.05,667.03 484.09,667.03 L479.02,667.03 Q477.06,667.03 476.52,664.84 L475.19,660.55 Q474.88,658.98 476.28,658.98 Z" fill="#8fc0e4" stroke="#10305b" stroke-width="1.4" stroke-linejoin="round" stroke-linecap="round"/>
<path d="M478.78,661.72 L484.25,661.72 Q484.09,664.22 482.69,664.38 L480.34,664.38 Q478.94,664.22 478.78,661.72 Z" fill="#dfeaf2" stroke="#10305b" stroke-width="1.2" stroke-linejoin="round"/>
<path d="M485.27,687.50 Q486.05,690.62 485.81,696.09" fill="none" stroke="#10305b" stroke-width="1.4" stroke-linejoin="round" stroke-linecap="round" stroke-width="1.1"/>
<path d="M744.75,665.23 L744.75,660.94 Q744.75,658.75 746.94,658.75 L779.36,658.75 Q781.55,658.75 781.55,660.94 L781.55,665.23 Z" fill="#a9cfe8"/>
<path d="M764.91,689.84 L746.94,689.84 Q744.75,689.84 744.75,687.66 L744.75,660.94 Q744.75,658.75 746.94,658.75 L779.36,658.75 Q781.55,658.75 781.55,660.94 L781.55,678.12" fill="none" stroke="#10305b" stroke-width="1.4" stroke-linejoin="round" stroke-linecap="round" stroke-width="1.6"/>
<path d="M744.75,665.23 L781.55,665.23" fill="none" stroke="#10305b" stroke-width="1.4" stroke-linejoin="round" stroke-linecap="round" stroke-width="1.5"/>
<circle cx="748.50" cy="662.11" r="0.95" fill="#10305b"/>
<circle cx="752.25" cy="662.11" r="0.95" fill="#10305b"/>
<circle cx="755.92" cy="662.11" r="0.95" fill="#10305b"/>
<circle cx="763.3" cy="677.3" r="7.6" fill="#b9d8ee" stroke="#10305b" stroke-width="1.5"/>
<path d="M755.6999999999999,677.3 L770.9,677.3 M763.3,669.6999999999999 L763.3,684.9 M757.0,673.3 Q763.3,675.0999999999999 769.5999999999999,673.3 M757.0,681.3 Q763.3,679.5 769.5999999999999,681.3" fill="none" stroke="#10305b" stroke-width="1.4" stroke-linejoin="round" stroke-linecap="round" stroke-width="1.2"/>
<ellipse cx="763.3" cy="677.3" rx="3.6" ry="7.6" fill="none" stroke="#10305b" stroke-width="1.4" stroke-linejoin="round" stroke-linecap="round" stroke-width="1.2"/>
<circle cx="776.2" cy="688.7" r="8.9" fill="#f1e0c2"/>
<circle cx="776.2" cy="688.7" r="7.9" fill="#a9cfe8" stroke="#10305b" stroke-width="1.6"/>
<path d="M772.72,689.06 L775.06,691.41 L779.75,686.33" fill="none" stroke="#10305b" stroke-width="1.4" stroke-linejoin="round" stroke-linecap="round" stroke-width="1.6"/>
<path d="M1051.22,669.14 L1051.22,664.45 Q1051.22,661.88 1053.88,661.88 L1081.69,661.88 Q1084.34,661.88 1084.34,664.45 L1084.34,669.14 Z" fill="#a9cfe8"/>
<path d="M1069.73,692.58 L1053.88,692.58 Q1051.22,692.58 1051.22,690.00 L1051.22,664.45 Q1051.22,661.88 1053.88,661.88 L1081.69,661.88 Q1084.34,661.88 1084.34,664.45 L1084.34,678.12" fill="none" stroke="#10305b" stroke-width="1.4" stroke-linejoin="round" stroke-linecap="round" stroke-width="1.6"/>
<path d="M1051.22,669.14 L1084.34,669.14" fill="none" stroke="#10305b" stroke-width="1.4" stroke-linejoin="round" stroke-linecap="round" stroke-width="1.5"/>
<path d="M1058.02,659.22 L1058.02,664.69 M1077.16,659.22 L1077.16,664.69" fill="none" stroke="#10305b" stroke-width="1.4" stroke-linejoin="round" stroke-linecap="round" stroke-width="1.8"/>
<rect x="1062.47" y="673.12" width="3.3" height="3" rx="0.6" fill="#1a3d66"/>
<rect x="1068.88" y="673.12" width="3.3" height="3" rx="0.6" fill="#1a3d66"/>
<rect x="1075.67" y="673.12" width="3.3" height="3" rx="0.6" fill="#1a3d66"/>
<rect x="1056.22" y="678.98" width="3.3" height="3" rx="0.6" fill="#1a3d66"/>
<rect x="1062.47" y="678.98" width="3.3" height="3" rx="0.6" fill="#1a3d66"/>
<rect x="1068.64" y="678.98" width="3.3" height="3" rx="0.6" fill="#1a3d66"/>
<rect x="1056.22" y="684.84" width="3.3" height="3" rx="0.6" fill="#1a3d66"/>
<rect x="1062.47" y="684.84" width="3.3" height="3" rx="0.6" fill="#1a3d66"/>
<circle cx="1080.3" cy="689.1" r="9" fill="#f1e0c2"/>
<path d="M1072.86,686.72 A 7.8 7.8 0 1 1 1073.25,692.58" transform="" fill="none" stroke="#10305b" stroke-width="1.4" stroke-linejoin="round" stroke-linecap="round" stroke-width="1.6"/>
<path d="M1072.31,687.11 L1075.75,683.20 L1076.77,687.50 Z" fill="#10305b" stroke="#10305b" stroke-width="0.8" stroke-linejoin="round"/>
<path d="M1078.72,685.16 L1080.44,689.22 L1082.78,689.84" fill="none" stroke="#10305b" stroke-width="1.4" stroke-linejoin="round" stroke-linecap="round" stroke-width="1.6"/><g transform="translate(156,96) scale(0.19535)" stroke-linejoin="round" stroke-linecap="round">
<path d="M68,626 C150,600 300,590 420,606 C560,625 700,640 760,655 C700,690 600,712 530,714 C400,700 200,660 68,626 Z" fill="#f1e1c6"/>
<path d="M436,232 L460,236 L430,472 L406,468 Z" fill="#d6bda0" stroke="#2e2621" stroke-width="6"/>
<path d="M232,170 C290,122 380,94 470,92 C425,118 385,158 365,192 L348,214 L243,197 Q222,190 232,170 Z" fill="#79b5ce" stroke="#15303f" stroke-width="7"/>
<path d="M470,92 C560,100 640,160 678,234 Q684,262 662,264 L552,247 L545,219 C540,170 510,120 470,92 Z" fill="#79b5ce" stroke="#15303f" stroke-width="7"/>
<path d="M470,92 C425,118 385,158 365,192 L368,216 Q372,226 385,228 L515,246 Q530,247 535,238 L545,219 C540,170 510,120 470,92 Z" fill="#f7f1e7" stroke="#15303f" stroke-width="7"/>
<path d="M232,170 L365,192 L348,214 L243,197 Q222,190 232,170 Z" fill="#5b9dbb" stroke="#15303f" stroke-width="6"/>
<path d="M545,219 L678,234 Q684,262 662,264 L552,247 Z" fill="#5b9dbb" stroke="#15303f" stroke-width="6"/>
<path d="M365,192 L545,219 L535,238 Q530,247 515,246 L385,228 Q372,226 368,216 Z" fill="#e9e2d4" stroke="#15303f" stroke-width="6"/>
<circle cx="470" cy="80" r="9" fill="#b9b2aa" stroke="#15303f" stroke-width="6"/>
<path d="M158,468 L188,478 L132,628 L100,620 Z" fill="#caa47d" stroke="#2e2621" stroke-width="6"/>
<path d="M172,478 L250,528 L236,540 L160,500 Z" fill="#b9926b" stroke="#2e2621" stroke-width="4"/>
<path d="M150,575 L290,560 L292,578 L145,592 Z" fill="#b9926b" stroke="#2e2621" stroke-width="4"/>
<path d="M268,570 L302,574 L300,598 L272,600 Z" fill="#b9926b" stroke="#2e2621" stroke-width="4"/>
<path d="M100,338 L120,322 L262,512 L240,526 Z" fill="#caa47d" stroke="#2e2621" stroke-width="6"/>
<clipPath id="bk1"><path d="M128,310 L270,296 Q282,296 288,306 L402,468 L252,512 L122,330 Q114,314 128,310 Z"/></clipPath>
<g clip-path="url(#bk1)"><rect x="90" y="280" width="340" height="250" fill="#79b5ce"/>
<polygon points="144,309 172,307 302,497 276,505" fill="#eef7fa"/>
<polygon points="200,304 228,301 352,483 327,490" fill="#eef7fa"/>
<polygon points="249,299 271,297 392,471 372,477" fill="#eef7fa"/>
</g>
<path d="M128,310 L270,296 Q282,296 288,306 L402,468 L252,512 L122,330 Q114,314 128,310 Z" fill="none" stroke="#15303f" stroke-width="7"/>
<clipPath id="st1"><path d="M252,512 L402,468 L718,520 Q746,528 738,550 L596,588 Q580,592 560,588 L258,536 Z"/></clipPath>
<g clip-path="url(#st1)"><rect x="240" y="460" width="520" height="140" fill="#79b5ce"/>
<polygon points="300,498 330,489 670,545 640,556" fill="#eef7fa"/>
<polygon points="352,483 374,477 712,532 690,540" fill="#eef7fa"/>
<polygon points="252,512 268,508 612,566 598,590 258,538" fill="#5b9dbb"/>
<polygon points="600,568 740,530 745,552 598,592" fill="#5b9dbb"/>
<ellipse cx="600" cy="562" rx="12" ry="7" fill="#eef7fa"/><ellipse cx="648" cy="552" rx="12" ry="7" fill="#eef7fa"/><ellipse cx="694" cy="541" rx="12" ry="7" fill="#eef7fa"/>
</g>
<path d="M252,512 L402,468 L718,520 Q746,528 738,550 L596,588 Q580,592 560,588 L258,536 Z" fill="none" stroke="#15303f" stroke-width="7"/>
<path d="M658,588 L690,580 L716,650 Q712,664 690,658 Z" fill="#caa47d" stroke="#2e2621" stroke-width="6"/>
<path d="M530,640 L682,612 L686,632 L536,664 Z" fill="#b9926b" stroke="#2e2621" stroke-width="4"/>
<path d="M476,602 L514,608 L550,692 Q540,708 520,702 Z" fill="#caa47d" stroke="#2e2621" stroke-width="6"/>
<path d="M80,503 L572,588 L740,546 Q750,548 746,570 L572,614 L82,536 Q68,520 80,503 Z" fill="#caa47d" stroke="#2e2621" stroke-width="6"/>
<path d="M572,588 L572,612" fill="none" stroke="#2e2621" stroke-width="4"/>
</g><g transform="translate(614,92) scale(0.20044)" stroke-linejoin="round" stroke-linecap="round">
<path d="M38,648 C200,630 700,630 856,652 C800,690 700,722 620,724 C450,722 200,700 38,660 Z" fill="#f4e5ca"/>
<path d="M459,212 L479,215 L454,448 L434,444 Z" fill="#cfbba2" stroke="#13293f" stroke-width="5.5"/>
<path d="M210,186 L290,217 L298,200 L309,229 Q470,262 643,275 L648,252 L657,276 L738,270 L746,244 L600,200 L362,160 L202,162 Z" fill="#c9a172" stroke="#13293f" stroke-width="5.5"/>
<path d="M198,160 C225,130 300,96 390,83 C430,79 470,78 497,80 C450,100 395,130 360,158 Z" fill="#e6cfa2" stroke="#13293f" stroke-width="6.5"/>
<path d="M497,80 C530,82 560,90 584,98 C640,120 710,170 747,240 L600,198 C598,160 560,110 497,80 Z" fill="#e6cfa2" stroke="#13293f" stroke-width="6.5"/>
<path d="M497,80 C450,100 395,130 360,158 L600,198 C598,160 560,110 497,80 Z" fill="#f6f0e2" stroke="#13293f" stroke-width="6.5"/>
<path d="M198,160 L360,158 L351,180 Q346,188 334,187 L214,187 Q196,184 198,160 Z" fill="#e9d5ac" stroke="#13293f" stroke-width="6"/>
<path d="M600,198 L747,240 Q752,262 738,268 L622,232 Q610,228 606,216 Z" fill="#e9d5ac" stroke="#13293f" stroke-width="6"/>
<path d="M362,159 L596,196 L586,216 Q580,224 566,221 L384,194 Q370,190 368,178 Z" fill="#eee4d0" stroke="#13293f" stroke-width="6"/>
<circle cx="497" cy="73" r="11" fill="#efe8da" stroke="#13293f" stroke-width="6"/>
<path d="M656,455 L682,455 L682,494 L656,494 Z" fill="#c4946c" stroke="#13293f" stroke-width="5.5"/>
<ellipse cx="668" cy="447" rx="84" ry="19" fill="#c4946c" stroke="#13293f" stroke-width="5.5"/>
<ellipse cx="668" cy="442" rx="72" ry="10" fill="#d4a67c"/>
<path d="M70,548 L648,602 L826,562 L826,612 L648,655 L70,640 Q60,640 60,630 L60,558 Q60,548 70,548 Z" fill="#c4946c" stroke="#13293f" stroke-width="6.5"/>
<path d="M648,602 L826,562 L826,612 L648,655 Z" fill="#b4845e" stroke="#13293f" stroke-width="5.5"/>
<path d="M62,596 L110,598 M648,602 L648,655" fill="none" stroke="#13293f" stroke-width="5.5"/>
<path d="M612,655 L672,655 L672,692 Q672,702 662,702 L622,702 Q612,702 612,692 Z" fill="#c4946c" stroke="#13293f" stroke-width="5.5"/>
<path d="M642,658 L642,700" fill="none" stroke="#13293f" stroke-width="4"/>
<path d="M768,627 L822,614 L822,650 Q822,658 812,660 L778,664 Q768,664 768,655 Z" fill="#c4946c" stroke="#13293f" stroke-width="5.5"/>
<path d="M796,622 L796,660" fill="none" stroke="#13293f" stroke-width="4"/>
<path d="M88,388 L112,368 L222,500 L200,528 Z" fill="#b4845e" stroke="#13293f" stroke-width="5.5"/>
<path d="M275,520 L648,552 L648,602 L278,574 Z" fill="#eee4d0" stroke="#13293f" stroke-width="6.5"/>
<path d="M648,552 L818,512 L822,562 L648,602 Z" fill="#ebe0ca" stroke="#13293f" stroke-width="6.5"/>
<path d="M275,520 L462,472 L806,498 Q826,504 816,516 L648,552 Z" fill="#f9f5ea" stroke="#13293f" stroke-width="6.5"/>
<path d="M112,350 Q106,334 128,330 L312,312 Q330,312 340,326 L462,472 L275,522 L114,382 Q108,366 112,350 Z" fill="#f6f0e2" stroke="#13293f" stroke-width="6.5"/>
<path d="M140,352 L290,490" fill="none" stroke="#13293f" stroke-width="4"/>
<path d="M196,320 L312,312 Q336,312 340,332 L350,372 Q352,388 334,392 L248,402 Q230,404 220,390 L182,342 Q174,324 196,320 Z" fill="#efe5d0" stroke="#13293f" stroke-width="6.5"/>
<path d="M192,340 L232,388 Q240,394 252,392 L340,380" fill="none" stroke="#13293f" stroke-width="3"/>
<path d="M112,636 L94,690 L136,682 L152,716 L174,652 Z" fill="#7fa5c6" stroke="#13293f" stroke-width="5.5"/>
<path d="M188,652 L214,716 L232,682 L268,690 L242,636 Z" fill="#7fa5c6" stroke="#13293f" stroke-width="5.5"/>
<path d="M256.0,572.0 Q266.9,595.3 245.8,610.0 Q243.6,635.6 218.0,637.8 Q203.3,658.9 180.0,648.0 Q156.7,658.9 142.0,637.8 Q116.4,635.6 114.2,610.0 Q93.1,595.3 104.0,572.0 Q93.1,548.7 114.2,534.0 Q116.4,508.4 142.0,506.2 Q156.7,485.1 180.0,496.0 Q203.3,485.1 218.0,506.2 Q243.6,508.4 245.8,534.0 Q266.9,548.7 256.0,572.0 Z" fill="#ead6ab" stroke="#13293f" stroke-width="6.5"/>
<circle cx="180" cy="572" r="57" fill="#f3e6c8" stroke="#13293f" stroke-width="5.5"/>
<polygon points="180.0,539.0 190.0,561.2 214.2,563.9 196.2,580.3 201.2,604.1 180.0,592.0 158.8,604.1 163.8,580.3 145.8,563.9 170.0,561.2" fill="#f3e6c8" stroke="#13293f" stroke-width="6.5"/>
</g><defs><linearGradient id="sea3" x1="0" y1="0" x2="0" y2="1"><stop offset="0" stop-color="#74b9db"/><stop offset="0.7" stop-color="#7fc1e0"/><stop offset="1" stop-color="#a9d8ee"/></linearGradient>
<linearGradient id="sand3" x1="0" y1="0" x2="0" y2="1"><stop offset="0" stop-color="#ecd8b3"/><stop offset="0.8" stop-color="#efdfc0"/><stop offset="1" stop-color="#f6ecd8"/></linearGradient></defs>
<g transform="translate(1080,90) scale(0.20044)" stroke-linejoin="round" stroke-linecap="round">
<path d="M60,555 L825,555 L825,700 Q825,716 800,716 L85,716 Q60,716 60,700 Z" fill="url(#sand3)"/>
<path d="M60,468 L825,468 L825,562 C700,560 600,590 440,582 C300,576 200,556 60,566 Z" fill="url(#sea3)"/>
<path d="M60,566 C200,556 300,576 440,582 C600,590 700,560 825,562 L825,572 C700,572 600,600 440,592 C300,586 200,568 60,578 Z" fill="#d3ecf7"/>
<path d="M335,490 L415,490 M480,490 L540,490 M380,511 L520,511 M445,532 L515,532" fill="none" stroke="#e8f5fb" stroke-width="5.5"/>
<ellipse cx="440" cy="702" rx="370" ry="10" fill="#e3cda4" opacity="0.7"/>
<rect x="222" y="400" width="28" height="125" fill="#a67c58" stroke="#13293f" stroke-width="5.5"/>
<rect x="634" y="400" width="28" height="125" fill="#a67c58" stroke="#13293f" stroke-width="5.5"/>
<path d="M272,290 L338,292 Q332,400 254,482 L228,474 Q266,390 272,290 Z" fill="#d0c2a9" stroke="#13293f" stroke-width="5.5"/>
<path d="M608,290 L542,292 Q548,400 626,482 L652,474 Q614,390 608,290 Z" fill="#d0c2a9" stroke="#13293f" stroke-width="5.5"/>
<path d="M300,300 Q296,380 252,452 M580,300 Q584,380 628,452" fill="none" stroke="#bfb096" stroke-width="4"/>
<rect x="218" y="478" width="36" height="14" rx="3" fill="#c9b48f" stroke="#13293f" stroke-width="4"/>
<rect x="630" y="478" width="36" height="14" rx="3" fill="#c9b48f" stroke="#13293f" stroke-width="4"/>
<path d="M336,286 L546,286 L546,306 A26.25,24 0 0 1 493.5,306 A26.25,24 0 0 1 441,306 A26.25,24 0 0 1 388.5,306 A26.25,24 0 0 1 336,306 Z" fill="#d0c2a9" stroke="#13293f" stroke-width="5.5"/>
<polygon points="203,655 220,655 220,702 203,702" fill="#b98e69" stroke="#13293f" stroke-width="4"/>
<polygon points="320,665 338,662 338,705 320,705" fill="#b98e69" stroke="#13293f" stroke-width="4"/>
<polygon points="405,635 420,630 420,668 405,668" fill="#b98e69" stroke="#13293f" stroke-width="4"/>
<polygon points="232,600 250,604 222,660 206,655" fill="#a67c58" stroke="#13293f" stroke-width="4"/>
<polygon points="340,598 418,604 424,622 330,650 300,630" fill="#bfe0f1" stroke="#13293f" stroke-width="4"/>
<polygon points="198,522 314,516 356,606 250,645" fill="#d6ebf5" stroke="#13293f" stroke-width="5.5"/>
<polygon points="206,540 300,534 338,608 252,636" fill="#b98e69" stroke="#13293f" stroke-width="4"/>
<path d="M215,559 L308,549" stroke="#7a573a" stroke-width="4" fill="none"/>
<path d="M224,578 L315,564" stroke="#7a573a" stroke-width="4" fill="none"/>
<path d="M234,598 L323,578" stroke="#7a573a" stroke-width="4" fill="none"/>
<path d="M243,617 L330,593" stroke="#7a573a" stroke-width="4" fill="none"/>
<polygon points="198,648 322,656 426,622 428,640 324,676 198,666" fill="#b98e69" stroke="#13293f" stroke-width="4"/>
<polygon points="677,655 660,655 660,702 677,702" fill="#b98e69" stroke="#13293f" stroke-width="4"/>
<polygon points="560,665 542,662 542,705 560,705" fill="#b98e69" stroke="#13293f" stroke-width="4"/>
<polygon points="475,635 460,630 460,668 475,668" fill="#b98e69" stroke="#13293f" stroke-width="4"/>
<polygon points="648,600 630,604 658,660 674,655" fill="#a67c58" stroke="#13293f" stroke-width="4"/>
<polygon points="540,598 462,604 456,622 550,650 580,630" fill="#bfe0f1" stroke="#13293f" stroke-width="4"/>
<polygon points="682,522 566,516 524,606 630,645" fill="#d6ebf5" stroke="#13293f" stroke-width="5.5"/>
<polygon points="674,540 580,534 542,608 628,636" fill="#b98e69" stroke="#13293f" stroke-width="4"/>
<path d="M665,559 L572,549" stroke="#7a573a" stroke-width="4" fill="none"/>
<path d="M656,578 L565,564" stroke="#7a573a" stroke-width="4" fill="none"/>
<path d="M646,598 L557,578" stroke="#7a573a" stroke-width="4" fill="none"/>
<path d="M637,617 L550,593" stroke="#7a573a" stroke-width="4" fill="none"/>
<polygon points="682,648 558,656 454,622 452,640 556,676 682,666" fill="#b98e69" stroke="#13293f" stroke-width="4"/>
<rect x="108" y="288" width="28" height="418" fill="#b98e69" stroke="#13293f" stroke-width="5.5"/>
<rect x="746" y="288" width="28" height="418" fill="#b98e69" stroke="#13293f" stroke-width="5.5"/>
<path d="M136,288 L274,288 Q262,420 158,498 L136,498 Z" fill="#f5efe2" stroke="#13293f" stroke-width="5.5"/>
<path d="M136,508 L156,508 Q176,600 190,684 L136,696 Z" fill="#f5efe2" stroke="#13293f" stroke-width="5.5"/>
<path d="M744,288 L606,288 Q618,420 722,498 L744,498 Z" fill="#f5efe2" stroke="#13293f" stroke-width="5.5"/>
<path d="M744,508 L724,508 Q704,600 690,684 L744,696 Z" fill="#f5efe2" stroke="#13293f" stroke-width="5.5"/>
<path d="M170,300 Q168,400 142,470 M215,300 Q205,390 150,480 M148,530 Q158,600 160,680 M710,300 Q712,400 738,470 M665,300 Q675,390 730,480 M732,530 Q722,600 720,680" fill="none" stroke="#d6cab2" stroke-width="4"/>
<rect x="104" y="494" width="56" height="16" rx="3" fill="#dfe9f0" stroke="#13293f" stroke-width="4"/>
<rect x="720" y="494" width="56" height="16" rx="3" fill="#dfe9f0" stroke="#13293f" stroke-width="4"/>
<path d="M440,52 L790,236 L95,236 Z" fill="#f5efe2" stroke="#13293f" stroke-width="6.5"/>
<path d="M446,62 L776,232 L560,226 Q500,150 446,62 Z" fill="#e6dcc7"/>
<path d="M440,52 L790,236 L95,236 Z" fill="none" stroke="#13293f" stroke-width="6.5"/>
<path d="M95,236 L790,236 L790,266 A34.75,30 0 0 1 720.5,266 A34.75,30 0 0 1 651.0,266 A34.75,30 0 0 1 581.5,266 A34.75,30 0 0 1 512.0,266 A34.75,30 0 0 1 442.5,266 A34.75,30 0 0 1 373.0,266 A34.75,30 0 0 1 303.5,266 A34.75,30 0 0 1 234.0,266 A34.75,30 0 0 1 164.5,266 A34.75,30 0 0 1 95.0,266 Z" fill="#f7f2e6" stroke="#13293f" stroke-width="6.5"/>
</g>
</svg>
<div class="t" style="left:248.48px;top:25.14px;font-size:53px;line-height:53px;color:#0e3461;transform:scaleX(1.0187);font-weight:bold;-webkit-text-stroke:0.4px #0e3461;">Sole</div>
<div class="t" style="left:377.56px;top:25.14px;font-size:53px;line-height:53px;color:#0e3461;transform:scaleX(1.0797);font-weight:bold;-webkit-text-stroke:0.4px #0e3461;">Mio</div>
<div class="t" style="left:490.86px;top:25.14px;font-size:53px;line-height:53px;color:#0e3461;transform:scaleX(1.0475);font-weight:bold;-webkit-text-stroke:0.4px #0e3461;">Beach</div>
<div class="t" style="left:671.60px;top:25.14px;font-size:53px;line-height:53px;color:#0e3461;transform:scaleX(1.0501);font-weight:bold;-webkit-text-stroke:0.4px #0e3461;">Club</div>
<div class="t" style="left:811.24px;top:25.14px;font-size:53px;line-height:53px;color:#0e3461;transform:scaleX(0.9857);font-weight:bold;-webkit-text-stroke:0.4px #0e3461;">Pass</div>
<div class="t" style="left:948.49px;top:25.14px;font-size:53px;line-height:53px;color:#0e3461;transform:scaleX(1.0573);font-weight:bold;-webkit-text-stroke:0.4px #0e3461;">Options</div>
<div class="t" style="left:129.92px;top:243.92px;font-size:27.5px;line-height:27.5px;color:#1c77b2;transform:scaleX(0.9832);font-weight:bold;">REGULAR PASS</div>
<div class="t" style="left:659.00px;top:243.72px;font-size:27.5px;line-height:27.5px;color:#1c77b2;transform:scaleX(1.0155);font-weight:bold;">VIP PASS</div>
<div class="t" style="left:1070.70px;top:243.72px;font-size:27.5px;line-height:27.5px;color:#1c77b2;transform:scaleX(1.0030);font-weight:bold;">CABANA PASS</div>
<div class="t" style="left:92.60px;top:290.32px;font-size:27.5px;line-height:27.5px;color:#111111;transform:scaleX(1.0405);-webkit-text-stroke:0.75px #111111;">Weekday:</div>
<div class="t" style="left:92.60px;top:324.12px;font-size:27.5px;line-height:27.5px;color:#111111;transform:scaleX(1.0437);-webkit-text-stroke:0.75px #111111;">Weekend:</div>
<div class="t" style="left:259.30px;top:289.45px;font-size:29px;line-height:29px;color:#12355f;transform:scaleX(1.0245);font-weight:bold;-webkit-text-stroke:0.3px #12355f;">AED 130</div>
<div class="t" style="left:259.30px;top:323.45px;font-size:29px;line-height:29px;color:#12355f;transform:scaleX(1.0245);font-weight:bold;-webkit-text-stroke:0.3px #12355f;">AED 150</div>
<div class="t" style="left:561.90px;top:290.32px;font-size:27.5px;line-height:27.5px;color:#111111;transform:scaleX(1.0380);-webkit-text-stroke:0.75px #111111;">Weekday:</div>
<div class="t" style="left:561.90px;top:324.12px;font-size:27.5px;line-height:27.5px;color:#111111;transform:scaleX(1.0421);-webkit-text-stroke:0.75px #111111;">Weekend:</div>
<div class="t" style="left:725.20px;top:289.45px;font-size:29px;line-height:29px;color:#12355f;transform:scaleX(1.0365);font-weight:bold;-webkit-text-stroke:0.3px #12355f;">AED 160</div>
<div class="t" style="left:725.20px;top:323.45px;font-size:29px;line-height:29px;color:#12355f;transform:scaleX(1.0365);font-weight:bold;-webkit-text-stroke:0.3px #12355f;">AED 180</div>
<div class="t" style="left:1029.90px;top:290.32px;font-size:27.5px;line-height:27.5px;color:#111111;transform:scaleX(1.0447);-webkit-text-stroke:0.75px #111111;">Weekday:</div>
<div class="t" style="left:1029.90px;top:324.12px;font-size:27.5px;line-height:27.5px;color:#111111;transform:scaleX(1.0470);-webkit-text-stroke:0.75px #111111;">Weekend:</div>
<div class="t" style="left:1183.20px;top:289.45px;font-size:29px;line-height:29px;color:#12355f;transform:scaleX(1.1103);font-weight:bold;-webkit-text-stroke:0.3px #12355f;">AED 700</div>
<div class="t" style="left:1183.20px;top:323.45px;font-size:29px;line-height:29px;color:#12355f;transform:scaleX(1.1103);font-weight:bold;-webkit-text-stroke:0.3px #12355f;">AED 800</div>
<div class="t" style="left:190.48px;top:396.16px;font-size:20.6px;line-height:20.6px;color:#111111;transform:scaleX(1.0224);font-weight:bold;-webkit-text-stroke:0.25px #111111;">Includes:</div>
<div class="t" style="left:658.89px;top:396.36px;font-size:20.6px;line-height:20.6px;color:#111111;transform:scaleX(1.0144);font-weight:bold;-webkit-text-stroke:0.25px #111111;">Includes:</div>
<div class="t" style="left:1125.98px;top:396.36px;font-size:20.6px;line-height:20.6px;color:#111111;transform:scaleX(1.0178);font-weight:bold;-webkit-text-stroke:0.25px #111111;">Includes:</div>
<div class="t" style="left:169.80px;top:422.96px;font-size:20.6px;line-height:20.6px;color:#111111;transform:scaleX(1.0187);-webkit-text-stroke:0.5px #111111;">Standard lounger</div>
<div class="t" style="left:158.20px;top:425.61px;font-size:17px;line-height:17px;color:#111111;">•</div>
<div class="t" style="left:168.79px;top:449.56px;font-size:20.6px;line-height:20.6px;color:#111111;transform:scaleX(1.0089);-webkit-text-stroke:0.5px #111111;">Beach umbrella</div>
<div class="t" style="left:158.20px;top:452.21px;font-size:17px;line-height:17px;color:#111111;">•</div>
<div class="t" style="left:168.79px;top:476.26px;font-size:20.6px;line-height:20.6px;color:#111111;transform:scaleX(1.0118);-webkit-text-stroke:0.5px #111111;">Fresh towel</div>
<div class="t" style="left:158.20px;top:478.91px;font-size:17px;line-height:17px;color:#111111;">•</div>
<div class="t" style="left:601.80px;top:423.06px;font-size:20.6px;line-height:20.6px;color:#111111;-webkit-text-stroke:0.5px #111111;">Oversized lounger</div>
<div class="t" style="left:590.50px;top:425.71px;font-size:17px;line-height:17px;color:#111111;">•</div>
<div class="t" style="left:600.77px;top:450.06px;font-size:20.6px;line-height:20.6px;color:#111111;transform:scaleX(1.0272);-webkit-text-stroke:0.5px #111111;">First two rows placement</div>
<div class="t" style="left:590.50px;top:452.71px;font-size:17px;line-height:17px;color:#111111;">•</div>
<div class="t" style="left:600.79px;top:476.56px;font-size:20.6px;line-height:20.6px;color:#111111;transform:scaleX(1.0068);-webkit-text-stroke:0.5px #111111;">Beach umbrella</div>
<div class="t" style="left:590.50px;top:479.21px;font-size:17px;line-height:17px;color:#111111;">•</div>
<div class="t" style="left:600.79px;top:503.46px;font-size:20.6px;line-height:20.6px;color:#111111;transform:scaleX(1.0089);-webkit-text-stroke:0.5px #111111;">Fresh towel</div>
<div class="t" style="left:590.50px;top:506.11px;font-size:17px;line-height:17px;color:#111111;">•</div>
<div class="t" style="left:1072.11px;top:423.06px;font-size:20.6px;line-height:20.6px;color:#111111;transform:scaleX(0.9949);-webkit-text-stroke:0.5px #111111;">Private cabana (2-4 people)</div>
<div class="t" style="left:1061.20px;top:425.71px;font-size:17px;line-height:17px;color:#111111;">•</div>
<div class="t" style="left:1072.07px;top:450.06px;font-size:20.6px;line-height:20.6px;color:#111111;transform:scaleX(1.0310);-webkit-text-stroke:0.5px #111111;">Unlimited water &amp; soft drinks</div>
<div class="t" style="left:1061.20px;top:452.71px;font-size:17px;line-height:17px;color:#111111;">•</div>
<div class="t" style="left:1072.09px;top:476.56px;font-size:20.6px;line-height:20.6px;color:#111111;transform:scaleX(1.0112);-webkit-text-stroke:0.5px #111111;">Beach umbrellas</div>
<div class="t" style="left:1061.20px;top:479.21px;font-size:17px;line-height:17px;color:#111111;">•</div>
<div class="t" style="left:1072.11px;top:503.46px;font-size:20.6px;line-height:20.6px;color:#111111;transform:scaleX(0.9936);-webkit-text-stroke:0.5px #111111;">Fresh towels</div>
<div class="t" style="left:1061.20px;top:506.11px;font-size:17px;line-height:17px;color:#111111;">•</div>
<div class="t" style="left:134.20px;top:557.46px;font-size:20.6px;line-height:20.6px;color:#111111;transform:scaleX(0.9962);font-weight:bold;-webkit-text-stroke:0.25px #111111;">Best for:</div>
<div class="t" style="left:223.20px;top:557.46px;font-size:20.6px;line-height:20.6px;color:#111111;transform:scaleX(1.0363);-webkit-text-stroke:0.5px #111111;">Solo visitors or</div>
<div class="t" style="left:134.12px;top:581.56px;font-size:20.6px;line-height:20.6px;color:#111111;transform:scaleX(1.0785);-webkit-text-stroke:0.5px #111111;">budget-conscious guests</div>
<div class="t" style="left:595.59px;top:557.46px;font-size:20.6px;line-height:20.6px;color:#111111;transform:scaleX(1.0072);font-weight:bold;-webkit-text-stroke:0.25px #111111;">Best for:</div>
<div class="t" style="left:684.10px;top:557.46px;font-size:20.6px;line-height:20.6px;color:#111111;transform:scaleX(1.1035);-webkit-text-stroke:0.5px #111111;">Premium comfort</div>
<div class="t" style="left:596.60px;top:581.56px;font-size:20.6px;line-height:20.6px;color:#111111;transform:scaleX(1.0483);-webkit-text-stroke:0.5px #111111;">and ocean views</div>
<div class="t" style="left:1067.00px;top:557.46px;font-size:20.6px;line-height:20.6px;color:#111111;font-weight:bold;-webkit-text-stroke:0.25px #111111;">Best for:</div>
<div class="t" style="left:1155.05px;top:557.46px;font-size:20.6px;line-height:20.6px;color:#111111;transform:scaleX(1.0536);-webkit-text-stroke:0.5px #111111;">Families or small</div>
<div class="t" style="left:1068.00px;top:581.56px;font-size:20.6px;line-height:20.6px;color:#111111;transform:scaleX(1.0595);-webkit-text-stroke:0.5px #111111;">groups seeking privacy</div>
<div class="t" style="left:146.56px;top:655.79px;font-size:20.8px;line-height:20.8px;color:#111111;transform:scaleX(0.9398);font-weight:bold;">Kids under 12: FREE</div>
<div class="t" style="left:146.44px;top:679.39px;font-size:20.8px;line-height:20.8px;color:#111111;transform:scaleX(1.0608);-webkit-text-stroke:0.5px #111111;">(no separate lounger)</div>
<div class="t" style="left:498.75px;top:655.79px;font-size:20.8px;line-height:20.8px;color:#111111;transform:scaleX(1.0459);-webkit-text-stroke:0.5px #111111;">Free beach toys</div>
<div class="t" style="left:499.80px;top:679.39px;font-size:20.8px;line-height:20.8px;color:#111111;transform:scaleX(1.0537);-webkit-text-stroke:0.5px #111111;">available</div>
<div class="t" style="left:794.51px;top:655.79px;font-size:20.8px;line-height:20.8px;color:#111111;transform:scaleX(1.0941);-webkit-text-stroke:0.5px #111111;">Book online to</div>
<div class="t" style="left:795.60px;top:679.39px;font-size:20.8px;line-height:20.8px;color:#111111;transform:scaleX(1.0574);-webkit-text-stroke:0.5px #111111;">secure your spot</div>
<div class="t" style="left:1099.73px;top:655.79px;font-size:20.8px;line-height:20.8px;color:#111111;transform:scaleX(1.0688);-webkit-text-stroke:0.5px #111111;">Free cancellation</div>
<div class="t" style="left:1098.85px;top:679.39px;font-size:20.8px;line-height:20.8px;color:#111111;transform:scaleX(1.0491);-webkit-text-stroke:0.5px #111111;">24+ hours in advance</div>
<div class="t" style="left:486.10px;top:731.19px;font-size:20.8px;line-height:20.8px;color:#111111;font-weight:bold;-webkit-text-stroke:0.25px #111111;">Weekends sell out before 11:00 AM - Book early!</div>
</body></html>
